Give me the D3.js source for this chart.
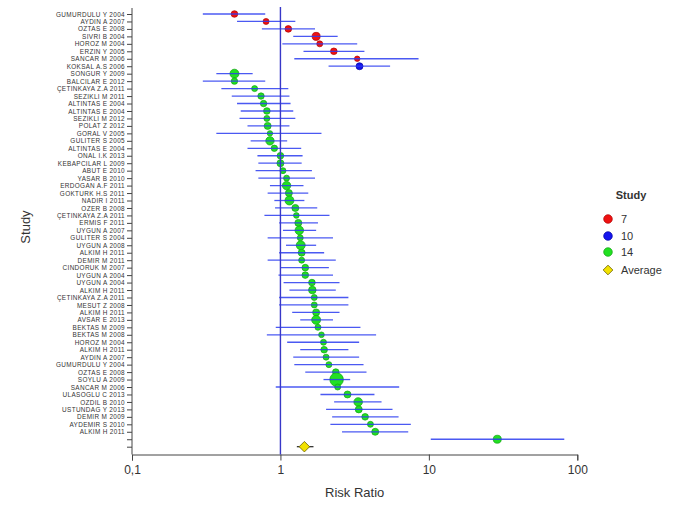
<!DOCTYPE html>
<html>
<head>
<meta charset="utf-8">
<script src="https://cdn.jsdelivr.net/npm/d3@7"></script>
<style>
  body { margin: 0; background: #fff; }
  svg { font-family: "Liberation Sans", Arial, sans-serif; }
</style>
</head>
<body>
<svg width="683" height="512"></svg>
<script>
// study labels, top to bottom (last two rows carry no label)
var studies = [
  "GUMURDULU Y 2004", "AYDIN A 2007", "OZTAS E 2008", "SIVRI B 2004", "HOROZ M 2004",
  "ERZIN Y 2005", "SANCAR M 2006", "KOKSAL A.S 2006", "SONGUR Y 2009", "BALCILAR E 2012",
  "ÇETINKAYA Z.A 2011", "SEZIKLI M 2011", "ALTINTAS E 2004", "ALTINTAS E 2004", "SEZIKLI M 2012",
  "POLAT Z 2012", "GORAL V 2005", "GULITER S 2005", "ALTINTAS E 2004", "ONAL I.K 2013",
  "KEBAPCILAR L 2009", "ABUT E 2010", "YASAR B 2010", "ERDOGAN A.F 2011", "GOKTURK H.S 2011",
  "NADIR I 2011", "OZER B 2008", "ÇETINKAYA Z.A 2011", "ERMIS F 2011", "UYGUN A 2007",
  "GULITER S 2004", "UYGUN A 2008", "ALKIM H 2011", "DEMIR M 2011", "CINDORUK M 2007",
  "UYGUN A 2004", "UYGUN A 2004", "ALKIM H 2011", "ÇETINKAYA Z.A 2011", "MESUT Z 2008",
  "ALKIM H 2011", "AVSAR E 2013", "BEKTAS M 2009", "BEKTAS M 2008", "HOROZ M 2004",
  "ALKIM H 2011", "AYDIN A 2007", "GUMURDULU Y 2004", "OZTAS E 2008", "SOYLU A 2009",
  "SANCAR M 2006", "ULASOGLU C 2013", "OZDIL B 2010", "USTUNDAG Y 2013", "DEMIR M 2009",
  "AYDEMIR S 2010", "ALKIM H 2011", "", ""
];

var rr = [0.49, 0.80, 1.13, 1.74, 1.84, 2.29, 3.29, 3.41, 0.49, 0.49,
  0.67, 0.74, 0.77, 0.81, 0.81, 0.82, 0.85, 0.85, 0.91, 1.00,
  1.00, 1.04, 1.10, 1.10, 1.14, 1.15, 1.26, 1.28, 1.32, 1.34,
  1.36, 1.37, 1.39, 1.39, 1.47, 1.47, 1.63, 1.64, 1.69, 1.69,
  1.74, 1.74, 1.79, 1.89, 1.95, 1.97, 2.03, 2.12, 2.36, 2.39,
  2.43, 2.83, 3.34, 3.37, 3.72, 4.04, 4.35, 28.9];

var lower = [0.30, 0.51, 0.75, 1.22, 1.03, 1.43, 1.24, 2.11, 0.37, 0.30,
  0.40, 0.47, 0.51, 0.54, 0.53, 0.60, 0.37, 0.63, 0.60, 0.70,
  0.71, 0.68, 0.71, 0.85, 0.82, 0.91, 0.92, 0.78, 0.98, 1.04,
  0.82, 1.09, 0.98, 0.82, 1.00, 0.97, 1.05, 1.15, 0.98, 0.98,
  1.20, 1.36, 0.93, 0.81, 1.11, 1.36, 1.22, 1.24, 1.47, 1.95,
  0.93, 1.86, 2.30, 2.03, 2.23, 2.17, 2.60, 10.3];

var upper = [0.79, 1.26, 1.71, 2.43, 3.29, 3.68, 8.52, 5.48, 0.65, 0.79,
  1.13, 1.15, 1.17, 1.22, 1.26, 1.15, 1.89, 1.11, 1.38, 1.41,
  1.39, 1.63, 1.71, 1.43, 1.54, 1.45, 1.77, 2.14, 1.79, 1.74,
  2.26, 1.74, 1.97, 2.36, 2.12, 2.26, 2.50, 2.36, 2.87, 2.87,
  2.50, 2.26, 3.46, 4.41, 3.39, 2.87, 3.39, 3.63, 3.80, 2.95,
  6.31, 4.30, 4.80, 5.69, 6.25, 7.56, 7.26, 81.7];

// relative study weight (drives marker area)
var weight = [4.3, 3.5, 4.3, 6.3, 3.5, 4.3, 2.9, 4.8, 7.9, 4.0,
  3.5, 4.0, 4.0, 4.3, 3.5, 4.8, 2.9, 6.9, 4.0, 4.3,
  4.8, 3.5, 3.5, 6.9, 4.8, 7.9, 4.8, 3.1, 4.8, 7.2,
  3.5, 7.9, 4.8, 3.5, 4.3, 4.3, 4.3, 5.6, 3.5, 3.5,
  4.8, 7.9, 3.5, 3.1, 3.5, 4.3, 3.5, 3.5, 4.3, 18,
  3.5, 4.8, 7.2, 4.8, 4.3, 3.5, 4.8, 6.3];

var groups = ["7", "7", "7", "7", "7", "7", "7", "10"]
  .concat(d3.range(50).map(function() { return "14"; }));

var average = {rr: 1.45, lower: 1.29, upper: 1.67};

var groupNames = ["7", "10", "14"],
  xTicks = [0.1, 1, 10, 100];

var svg = d3.select("svg");

var x = d3.scaleLog().domain([0.1, 100]).range([132, 577.3]);
var y = d3.scalePoint().domain(d3.range(studies.length)).range([14, 446.7]);
var r = d3.scaleSqrt().domain([0, 20]).range([0, 7.15]);
var color = d3.scaleOrdinal().domain(groupNames).range(["#ee1111", "#1515ee", "#22e022"]);
var stroke = d3.scaleOrdinal().domain(groupNames).range(["#b00000", "#0000a0", "#11a011"]);

var axisTop = 8, axisBottom = 454.5;

// x axis
var xAxis = svg.append("g")
  .attr("transform", "translate(0," + axisBottom + ")")
  .call(d3.axisBottom(x)
    .tickValues(xTicks)
    .tickSizeOuter(0)
    .tickSize(6)
    .tickPadding(5)
    .tickFormat(function(d) { return String(d).replace(".", ","); }));
xAxis.selectAll("path, line").attr("stroke", "#444");
xAxis.selectAll("text")
  .attr("fill", "#333")
  .style("font-family", "'Liberation Sans Narrow', 'Liberation Sans', Arial, sans-serif")
  .style("font-size", "12px");

// y axis
var yAxis = svg.append("g")
  .attr("transform", "translate(132,0)")
  .call(d3.axisLeft(y)
    .tickSize(5)
    .tickPadding(2)
    .tickFormat(function(i) { return studies[i]; }));
yAxis.select(".domain").remove();
yAxis.selectAll("line").attr("stroke", "#444");
yAxis.selectAll("text")
  .attr("fill", "#333")
  .style("font-size", "6.4px")
  .style("letter-spacing", "0.35px");

svg.append("line")
  .attr("x1", 132).attr("x2", 132)
  .attr("y1", axisTop).attr("y2", axisBottom)
  .attr("stroke", "#444");

// axis titles
svg.append("text")
  .attr("x", x(Math.sqrt(10)))
  .attr("y", 497)
  .attr("text-anchor", "middle")
  .attr("fill", "#333")
  .style("font-size", "13px")
  .text("Risk Ratio");

svg.append("text")
  .attr("transform", "translate(30,227) rotate(-90)")
  .attr("text-anchor", "middle")
  .attr("fill", "#333")
  .style("font-size", "13px")
  .text("Study");

// study markers
svg.append("g").selectAll("circle")
  .data(rr)
  .enter().append("circle")
    .attr("cx", function(d) { return x(d); })
    .attr("cy", function(d, i) { return y(i); })
    .attr("r", function(d, i) { return r(weight[i]); })
    .attr("fill", function(d, i) { return color(groups[i]); })
    .attr("stroke", function(d, i) { return stroke(groups[i]); })
    .attr("stroke-width", 0.7);

// confidence intervals
svg.append("g").selectAll("line")
  .data(rr)
  .enter().append("line")
    .attr("x1", function(d, i) { return x(lower[i]); })
    .attr("x2", function(d, i) { return x(upper[i]); })
    .attr("y1", function(d, i) { return y(i); })
    .attr("y2", function(d, i) { return y(i); })
    .attr("stroke", "#2a3cf0")
    .attr("stroke-opacity", 0.85)
    .attr("stroke-width", 1.3);

// no-effect line
svg.append("line")
  .attr("x1", x(1)).attr("x2", x(1))
  .attr("y1", axisTop - 1).attr("y2", axisBottom)
  .attr("stroke", "#3838c8")
  .attr("stroke-width", 1.4);

// pooled average
var yAvg = y(studies.length - 1);
svg.append("line")
  .attr("x1", x(average.lower)).attr("x2", x(average.upper))
  .attr("y1", yAvg).attr("y2", yAvg)
  .attr("stroke", "#222")
  .attr("stroke-width", 1.2);
svg.append("path")
  .attr("d", d3.symbol(d3.symbolDiamond2, 70)())
  .attr("transform", "translate(" + x(average.rr) + "," + yAvg + ")")
  .attr("fill", "#f2e200")
  .attr("stroke", "#6a6000")
  .attr("stroke-width", 0.8);

// legend
var legend = svg.append("g");
legend.append("text")
  .attr("x", 631).attr("y", 199)
  .attr("text-anchor", "middle")
  .attr("fill", "#333")
  .style("font-size", "11px")
  .style("font-weight", "bold")
  .text("Study");

var legendRows = groupNames.concat(["Average"]),
  legendY = [219, 236, 252, 270];

legendRows.forEach(function(name, i) {
  if (name === "Average") {
    legend.append("path")
      .attr("d", d3.symbol(d3.symbolDiamond2, 60)())
      .attr("transform", "translate(608," + legendY[i] + ")")
      .attr("fill", "#f2e200")
      .attr("stroke", "#6a6000")
      .attr("stroke-width", 0.8);
  } else {
    legend.append("circle")
      .attr("cx", 608).attr("cy", legendY[i]).attr("r", 4.3)
      .attr("fill", color(name))
      .attr("stroke", stroke(name))
      .attr("stroke-width", 0.7);
  }
  legend.append("text")
    .attr("x", 621).attr("y", legendY[i])
    .attr("dy", "0.35em")
    .attr("fill", "#333")
    .style("font-size", "11px")
    .text(name);
});
</script>
</body>
</html>
